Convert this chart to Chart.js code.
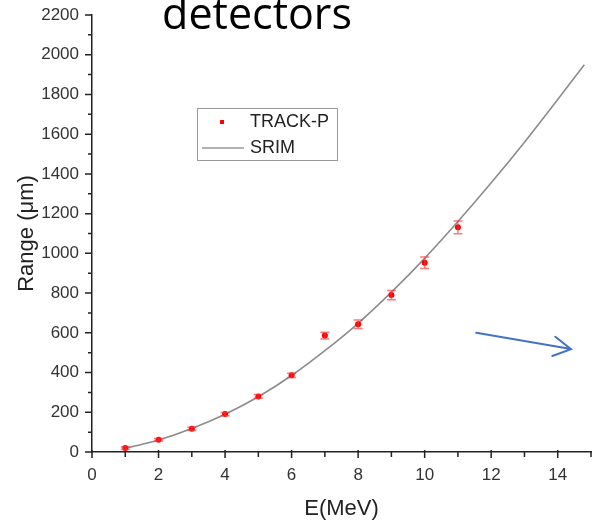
<!DOCTYPE html>
<html>
<head>
<meta charset="utf-8">
<script src="https://cdn.jsdelivr.net/npm/chart.js@4.4.1/dist/chart.umd.min.js"></script>
<style>
  html, body { margin: 0; padding: 0; background: #fff; }
  #wrap { width: 597px; height: 526px; position: relative; }
</style>
</head>
<body>
<div id="wrap"><canvas id="c" width="597" height="526"></canvas></div>
<script>
// ---- data ----
const trackE = [1, 2, 3, 4, 5, 6, 7, 8, 9, 10, 11];
const trackRange = [20, 62, 117, 191, 280, 386, 586, 643, 790, 953, 1131];
const trackErr = [6, 6, 7, 8, 9, 11, 17, 21, 23, 29, 32];
const srimE = [1, 2, 3, 4, 5, 6, 7, 8, 9, 10, 11, 12, 13, 14, 14.8];
const srimRange = [18, 60, 118, 190, 278, 385, 510, 648, 805, 975, 1160, 1355, 1560, 1775, 1950];
const xTicks = [0, 2, 4, 6, 8, 10, 12, 14];
const yTicks = [0, 200, 400, 600, 800, 1000, 1200, 1400, 1600, 1800, 2000, 2200];
const arrowFrom = [11.55, 600];
const arrowTo = [14.4, 518];
const titleText = 'detectors';

const FONT = "'Liberation Sans', Arial, sans-serif";
const AXIS_COLOR = '#222';

const errorBars = {
  id: 'errorBars',
  afterDatasetDraw(chart, args) {
    if (args.index !== 1) return;
    const ctx = chart.ctx, xs = chart.scales.x, ys = chart.scales.y;
    ctx.save();
    ctx.strokeStyle = 'rgba(255,50,50,0.65)';
    ctx.lineWidth = 1.5;
    trackE.forEach((e, i) => {
      const px = xs.getPixelForValue(e);
      const top = ys.getPixelForValue(trackRange[i] + trackErr[i]);
      const bot = ys.getPixelForValue(trackRange[i] - trackErr[i]);
      ctx.beginPath();
      ctx.moveTo(px, top); ctx.lineTo(px, bot);
      ctx.moveTo(px - 4.5, top); ctx.lineTo(px + 4.5, top);
      ctx.moveTo(px - 4.5, bot); ctx.lineTo(px + 4.5, bot);
      ctx.stroke();
    });
    ctx.restore();
  }
};

const decor = {
  id: 'decor',
  afterDraw(chart) {
    const ctx = chart.ctx, xs = chart.scales.x, ys = chart.scales.y;
    const a = chart.chartArea;
    ctx.save();
    // tick marks
    ctx.strokeStyle = AXIS_COLOR;
    ctx.lineWidth = 1.5;
    ctx.beginPath();
    ys.ticks.forEach(t => {
      const py = ys.getPixelForValue(t.value);
      const major = yTicks.includes(t.value);
      ctx.moveTo(a.left, py); ctx.lineTo(a.left - (major ? 7 : 4), py);
    });
    xs.ticks.forEach(t => {
      const px = xs.getPixelForValue(t.value);
      const major = xTicks.includes(t.value);
      ctx.moveTo(px, a.bottom - (major ? 2 : 0)); ctx.lineTo(px, a.bottom + (major ? 6 : 5));
    });
    ctx.stroke();

    // legend
    const lx = 197, ly = 108, lw = 140, lh = 52;
    ctx.strokeStyle = '#9a9a9a';
    ctx.lineWidth = 1;
    ctx.strokeRect(lx + 0.5, ly + 0.5, lw, lh);
    const ds = chart.data.datasets;
    ctx.fillStyle = ds[1].backgroundColor;
    ctx.fillRect(220, 120, 4, 4);
    ctx.strokeStyle = '#666';
    ctx.lineWidth = 1.2;
    ctx.beginPath(); ctx.moveTo(202, 148); ctx.lineTo(244, 148); ctx.stroke();
    ctx.fillStyle = '#222';
    ctx.font = '18px ' + FONT;
    ctx.textBaseline = 'middle';
    ctx.textAlign = 'left';
    ctx.fillText(ds[1].label, 250, 122);
    ctx.fillText(ds[0].label, 250, 148);

    // arrow
    const x1 = xs.getPixelForValue(arrowFrom[0]), y1 = ys.getPixelForValue(arrowFrom[1]);
    const x2 = xs.getPixelForValue(arrowTo[0]), y2 = ys.getPixelForValue(arrowTo[1]);
    const ang = Math.atan2(y2 - y1, x2 - x1);
    ctx.strokeStyle = '#4472C4';
    ctx.lineWidth = 2;
    ctx.lineCap = 'round';
    ctx.beginPath();
    ctx.moveTo(x1, y1); ctx.lineTo(x2, y2);
    ctx.moveTo(x2 - 20 * Math.cos(ang - 0.52), y2 - 20 * Math.sin(ang - 0.52));
    ctx.lineTo(x2, y2);
    ctx.lineTo(x2 - 20 * Math.cos(ang + 0.5), y2 - 20 * Math.sin(ang + 0.5));
    ctx.stroke();

    // title (cut at top)
    ctx.fillStyle = '#000';
    ctx.font = "43px 'Open Sans', 'Noto Sans', sans-serif";
    ctx.textAlign = 'center';
    ctx.textBaseline = 'alphabetic';
    ctx.fillText(titleText, 257, 29);
    ctx.restore();
  }
};

new Chart(document.getElementById('c'), {
  type: 'scatter',
  data: {
    datasets: [
      {
        label: 'SRIM',
        data: srimE.map((e, i) => ({ x: e, y: srimRange[i] })),
        showLine: true,
        borderColor: '#8c8c8c',
        borderWidth: 1.6,
        pointRadius: 0,
        tension: 0.4,
        cubicInterpolationMode: 'monotone',
        order: 1
      },
      {
        label: 'TRACK-P',
        data: trackE.map((e, i) => ({ x: e, y: trackRange[i] })),
        showLine: false,
        backgroundColor: '#ff0000',
        borderColor: '#ff0000',
        pointRadius: 3,
        pointBorderWidth: 0,
        order: 0
      }
    ]
  },
  options: {
    responsive: false,
    animation: false,
    layout: { padding: { top: 15, right: 6, left: 0, bottom: 0 } },
    plugins: { legend: { display: false }, tooltip: { enabled: false } },
    scales: {
      x: {
        type: 'linear', min: 0, max: 15,
        afterFit: s => { s.height = 74; s.paddingLeft = 0; s.paddingRight = 0; },
        border: { display: true, color: AXIS_COLOR, width: 1.5 },
        grid: { display: false, drawTicks: false },
        ticks: {
          stepSize: 1, autoSkip: false, maxRotation: 0, padding: 13,
          color: '#333', font: { family: FONT, size: 17 },
          callback: v => xTicks.includes(v) ? String(v) : ''
        },
        title: { display: true, text: 'E(MeV)', color: '#222',
                 font: { family: FONT, size: 22 }, padding: { top: 0, bottom: 4 } }
      },
      y: {
        type: 'linear', min: 0, max: 2200,
        afterFit: s => { s.width = 92; s.paddingTop = 0; s.paddingBottom = 0; },
        border: { display: true, color: AXIS_COLOR, width: 1.5 },
        grid: { display: false, drawTicks: false },
        ticks: {
          stepSize: 100, autoSkip: false, padding: 13,
          color: '#333', font: { family: FONT, size: 17 },
          callback: v => yTicks.includes(v) ? String(v) : ''
        },
        title: { display: true, text: 'Range (μm)', color: '#222',
                 font: { family: FONT, size: 22 }, padding: { top: 14, bottom: 0 } }
      }
    }
  },
  plugins: [errorBars, decor]
});
</script>
</body>
</html>
